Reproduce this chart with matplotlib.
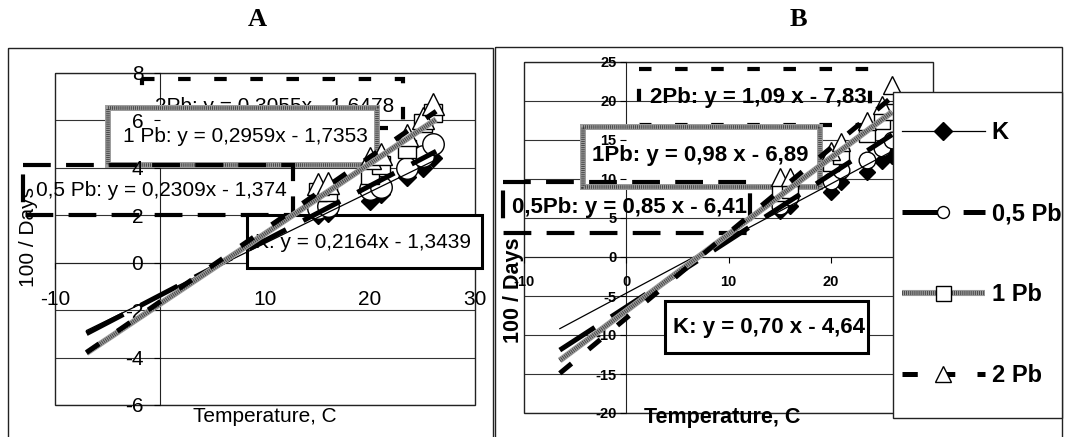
import matplotlib.pyplot as plt
import matplotlib.transforms as mtransforms
from matplotlib.patches import Rectangle
from matplotlib.lines import Line2D
from matplotlib.legend_handler import HandlerTuple

plt.rcParams['font.family'] = ['Liberation Sans', 'DejaVu Sans']
plt.rcParams['lines.scale_dashes'] = False

# ===============================
# Datos
# ===============================
series = ['K', '0,5 Pb', '1 Pb', '2 Pb']
temps = [15, 16, 20, 21, 23.5, 25, 26]

# Panel A
k_a = [2.0, 2.1, 2.6, 2.9, 3.6, 4.0, 4.4]
pb05_a = [2.3, 2.4, 3.1, 3.2, 4.0, 4.5, 5.0]
pb1_a = [3.0, 3.0, 3.7, 4.1, 4.8, 5.9, 6.3]
pb2_a = [3.3, 3.35, 4.4, 4.6, 5.4, 6.1, 6.7]
slope_a = [0.2164, 0.2309, 0.2959, 0.3055]
icpt_a = [-1.3439, -1.374, -1.7353, -1.6478]
tag_a = ['K', '0,5 Pb', '1 Pb', '2Pb']
span_a = [-7, 26.3]
xticks_a = [-10, 0, 10, 20, 30]
yticks_a = [-6, -4, -2, 0, 2, 4, 6, 8]

# Panel B
k_b = [5.9, 6.6, 8.3, 9.6, 10.9, 12.3, 13.0]
pb05_b = [6.6, 7.7, 9.8, 11.1, 12.5, 14.0, 15.0]
pb1_b = [8.2, 8.6, 12.0, 13.0, 15.8, 17.4, 18.6]
pb2_b = [10.2, 10.3, 13.6, 14.7, 17.4, 19.5, 22.0]
slope_b = [0.70, 0.85, 0.98, 1.09]
icpt_b = [-4.64, -6.41, -6.89, -7.83]
tag_b = ['K', '0,5Pb', '1Pb', '2Pb']
span_b = [-6.5, 26]
xticks_b = [-10, 0, 10, 20, 30]
yticks_b = [-20, -15, -10, -5, 0, 5, 10, 15, 20, 25]

# ===============================
# Figura y ejes (posiciones en pixeles, origen arriba-izquierda)
# ===============================
W, H = 1068, 437
fig = plt.figure(figsize=(W / 100, H / 100), dpi=100)
pix = mtransforms.Affine2D().scale(1 / W, -1 / H).translate(0, 1) + fig.transFigure

ax_a = fig.add_axes([55 / W, 1 - 405 / H, 420 / W, 332 / H])
ax_b = fig.add_axes([524 / W, 1 - 413 / H, 409 / W, 351 / H])

# marcos exteriores de cada panel
fig.add_artist(Rectangle((8, 48), 485, 420, transform=pix, fill=False, ec='#222222', lw=1.0))
fig.add_artist(Rectangle((495, 47), 567, 420, transform=pix, fill=False, ec='#222222', lw=1.0))
fig.text(257, 19, 'A', transform=pix, ha='center', va='center', family='Liberation Serif',
         weight='bold', fontsize=19)
fig.text(798, 19, 'B', transform=pix, ha='center', va='center', family='Liberation Serif',
         weight='bold', fontsize=19)

markers = ['D', 'o', 's', '^']
faces = ['k', 'w', 'w', 'w']
box_kind = ['solid', 'long', 'gray', 'short']
box_z = [1.6, 1.4, 1.2, 1.0]
GRAY_BASE = '#9c9c9c'
GRAY_DOTS = '#3c3c3c'


def num(v, nd, strip):
    s = f"{abs(v):.{nd}f}"
    if strip:
        s = s.rstrip('0')
    return s.replace('.', ',')


def trend(ax, xs, ys, i, lw):
    if i == 0:
        ax.plot(xs, ys, color='k', lw=0.9, zorder=3.5)
    elif i == 1:
        ax.plot(xs, ys, color='k', lw=lw, ls=(0, (30, 14)), dash_capstyle='butt', zorder=3.6)
    elif i == 2:
        ax.plot(xs, ys, color=GRAY_BASE, lw=lw + 0.8, solid_capstyle='butt', zorder=3.7)
        ax.plot(xs, ys, color=GRAY_DOTS, lw=lw - 0.6, ls=(0, (0.6, 0.9)),
                dash_capstyle='butt', zorder=3.71)
    else:
        ax.plot(xs, ys, color='k', lw=lw, ls=(0, (11, 16)), dash_capstyle='butt', zorder=3.8)


def draw_box(ax, rect, kind, z):
    x0, y0, x1, y1 = rect
    kw = dict(transform=pix, clip_on=False, zorder=z)
    if kind == 'solid':
        ax.add_patch(Rectangle((x0, y0), x1 - x0, y1 - y0, fc='w', ec='k', lw=2.2, **kw))
    elif kind == 'gray':
        ax.add_patch(Rectangle((x0, y0), x1 - x0, y1 - y0, fc='w', ec=GRAY_BASE, lw=4.3, **kw))
        kw['zorder'] = z + 0.01
        ax.add_patch(Rectangle((x0, y0), x1 - x0, y1 - y0, fill=False, ec=GRAY_DOTS, lw=2.6,
                               ls=(0, (0.6, 0.9)), **kw))
    elif kind == 'long':
        ax.add_patch(Rectangle((x0, y0), x1 - x0, y1 - y0, fill=False, ec='k', lw=3.0,
                               ls=(0, (20, 11)), **kw))
    else:
        ax.add_patch(Rectangle((x0, y0), x1 - x0, y1 - y0, fill=False, ec='k', lw=3.0,
                               ls=(0, (9, 17)), **kw))


def panel(ax, values, slopes, icpts, tags, span, xticks, yticks, boxes, centers,
          ms, eq_fmt, bold, tick_size, tick_pads, hide_zero_x):
    weight = 'bold' if bold else 'normal'
    ax.set_xlim(xticks[0], xticks[-1])
    ax.set_ylim(yticks[0], yticks[-1])

    # lineas de division horizontales y marco del area de trazado
    for yv in yticks:
        ax.axhline(yv, color='#333333', lw=0.8, zorder=0.5)
    ax.add_patch(Rectangle((0, 0), 1, 1, transform=ax.transAxes, fill=False,
                           ec='#222222', lw=1.0, zorder=0.6, clip_on=False))

    # ejes cruzando en el origen, estilo Excel
    ax.spines['left'].set_position(('data', 0))
    ax.spines['bottom'].set_position(('data', 0))
    ax.spines['top'].set_visible(False)
    ax.spines['right'].set_visible(False)
    for sp in ax.spines.values():
        sp.set_zorder(0.6)
        sp.set_color('#222222')
    ax.set_xticks(xticks)
    ax.set_xticklabels(['' if (t == 0 and hide_zero_x) else str(t) for t in xticks])
    ax.set_yticks(yticks)
    ax.set_yticklabels([str(t) for t in yticks])
    ax.tick_params(axis='x', direction='out', length=4, pad=tick_pads[0], labelsize=tick_size)
    ax.tick_params(axis='y', direction='out', length=4, pad=tick_pads[1], labelsize=tick_size)
    for lab in ax.get_xticklabels() + ax.get_yticklabels():
        lab.set_fontweight(weight)

    # puntos
    for i, ys in enumerate(values):
        ax.plot(temps, ys, ls='none', marker=markers[i], ms=ms[i], mfc=faces[i],
                mec='k', mew=1.0, zorder=3, clip_on=False)

    # lineas de tendencia y recuadros con la ecuacion
    for i in range(4):
        xs = span
        ys = [slopes[i] * x + icpts[i] for x in xs]
        trend(ax, xs, ys, i, 3.6)
        draw_box(ax, boxes[i], box_kind[i], box_z[i])
        label = eq_fmt(tags[i], slopes[i], icpts[i])
        ax.text(centers[i][0], centers[i][1], label, transform=pix, ha='center', va='center',
                fontsize=15 if not bold else 16, weight=weight, zorder=box_z[i] + 0.05,
                clip_on=False)


def eq_a(tag, s, b):
    return f"{tag}: y = {num(s, 4, True)}x - {num(b, 4, True)}"


def eq_b(tag, s, b):
    return f"{tag}: y = {num(s, 2, False)} x - {num(b, 2, False)}"


# ===============================
# Panel A
# ===============================
boxes_a = [(247, 215, 482, 268), (23, 165, 293, 215), (108, 108, 377, 165), (142, 79, 403, 128)]
centers_a = [(363, 242), (161, 190), (245, 137), (275, 106)]
panel(ax_a, [k_a, pb05_a, pb1_a, pb2_a], slope_a, icpt_a, tag_a, span_a, xticks_a, yticks_a,
      boxes_a, centers_a, [9.2, 15.5, 13, 16], eq_a, False, 15, (16, 8), True)
ax_a.set_xlabel('Temperature, C', fontsize=15, va='center')
ax_a.xaxis.set_label_coords(0.5, 1 - (417 - 73) / 332)
ax_a.set_ylabel('100 / Days', fontsize=15, va='center')
ax_a.yaxis.set_label_coords((28 - 55) / 420, 1 - (237 - 73) / 332)

# ===============================
# Panel B
# ===============================
boxes_b = [(665, 301, 868, 353), (503, 182, 750, 233), (583, 127, 820, 187), (639, 69, 870, 125)]
centers_b = [(769, 327), (629, 207), (700, 155), (758, 97)]
panel(ax_b, [k_b, pb05_b, pb1_b, pb2_b], slope_b, icpt_b, tag_b, span_b, xticks_b, yticks_b,
      boxes_b, centers_b, [8.0, 12, 11, 13], eq_b, True, 10.5, (9, 3), False)
ax_b.set_xlabel('Temperature, C', fontsize=15.5, weight='bold', va='center')
ax_b.xaxis.set_label_coords((722 - 524) / 409, 1 - (418 - 62) / 351)
ax_b.set_ylabel('100 / Days', fontsize=15.5, weight='bold', va='center')
ax_b.yaxis.set_label_coords((513 - 524) / 409, 1 - (290 - 62) / 351)

# leyenda del panel B
fig.add_artist(Rectangle((893, 92), 169, 326, transform=pix, fc='w', ec='#222222', lw=1.0,
                         zorder=4.9))
h_k = Line2D([], [], color='k', lw=0.9, marker='D', ms=9, mfc='k', mec='k')
h_05 = Line2D([], [], color='k', lw=3.6, ls=(0, (30, 14)), dash_capstyle='butt',
              marker='o', ms=8.6, mfc='w', mec='k', mew=1.0)
h_1 = (Line2D([], [], color=GRAY_BASE, lw=4.4, solid_capstyle='butt'),
       Line2D([], [], color=GRAY_DOTS, lw=3.0, ls=(0, (0.6, 0.9)), dash_capstyle='butt'),
       Line2D([], [], ls='none', marker='s', ms=10.8, mfc='w', mec='k', mew=1.0))
h_2 = Line2D([], [], color='k', lw=3.6, ls=(0, (11, 16)), dash_capstyle='butt',
             marker='^', ms=11, mfc='w', mec='k', mew=1.0)
leg = fig.legend([h_k, h_05, h_1, h_2], series, loc='center left',
                 bbox_to_anchor=(902 / W, 1 - 254 / H), frameon=False, borderpad=0,
                 borderaxespad=0, handlelength=3.5, handletextpad=0.3, labelspacing=2.45,
                 prop={'weight': 'bold', 'size': 17},
                 handler_map={tuple: HandlerTuple(ndivide=1, pad=0)})
leg.set_zorder(5)

fig.savefig('out.png', dpi=100)
